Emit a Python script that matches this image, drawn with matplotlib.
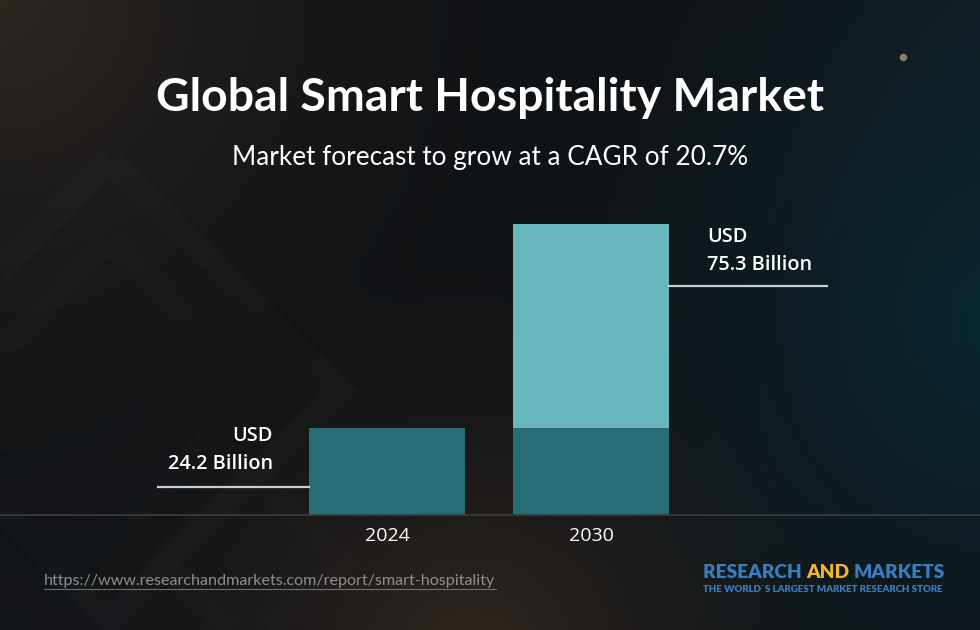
import numpy as np
import matplotlib
matplotlib.use("Agg")
import matplotlib.pyplot as plt
from matplotlib.patches import Polygon

# ---- data ----
years = ["2024", "2030"]
base_values = [24.2, 24.2]
total_values = [24.2, 75.3]
value_labels = ["USD\n24.2 Billion", "USD\n75.3 Billion"]
title = "Global Smart Hospitality Market"
subtitle = "Market forecast to grow at a CAGR of 20.7%"
url = "https://www.researchandmarkets.com/report/smart-hospitality"

W, H = 980, 630
fig = plt.figure(figsize=(W / 100, H / 100), dpi=100)

# ---- background gradient ----
bg = fig.add_axes([0, 0, 1, 1])
bg.set_axis_off()
yy, xx = np.mgrid[0:H, 0:W].astype(float)
base = np.array([0.065, 0.075, 0.085])
img = np.ones((H, W, 3)) * base

def blob(cx, cy, r, col, strength):
    d = np.sqrt((xx - cx) ** 2 + (yy - cy) ** 2) / r
    w = np.clip(1 - d, 0, 1) ** 1.6 * strength
    return w[..., None] * (np.array(col) - base)

img += blob(0, 0, 520, [0.18, 0.155, 0.135], 1.0)
img += blob(470, 660, 420, [0.19, 0.155, 0.13], 1.0)
img += blob(1000, 330, 520, [0.035, 0.16, 0.20], 1.0)
img += blob(1000, 0, 400, [0.07, 0.13, 0.15], 0.6)
img += blob(0, 630, 400, [0.09, 0.10, 0.11], 0.5)
img = np.clip(img, 0, 1)
bg.imshow(img, extent=[0, W, H, 0], aspect="auto")
bg.set_xlim(0, W)
bg.set_ylim(H, 0)
# faint diamonds
for (cx, cy, s, a) in [(110, 390, 230, 0.015), (110, 390, 150, 0.012), (250, 560, 90, 0.01)]:
    bg.add_patch(Polygon([[cx, cy - s], [cx + s, cy], [cx, cy + s], [cx - s, cy]],
                         closed=True, fill=False, ec=(1, 1, 1, a), lw=18))
bg.scatter([903], [57], s=20, color="#8a7c6c", zorder=3)

# ---- chart axes (baseline at pixel 515) ----
v0 = 2.4
scale = 3.99  # pixels per unit
ax = fig.add_axes([0, (H - 515) / H, 1, 515 / H])
ax.set_facecolor("none")
ax.set_xlim(-387 / 204, (W - 387) / 204)
ax.set_ylim(v0, v0 + 515 / scale)
ax.set_axis_off()

x = np.arange(len(years))
dark = "#286c75"
light = "#68b7bc"
ax.bar(x, base_values, width=156 / 204, color=dark, zorder=2)
ax.bar(x, np.array(total_values) - np.array(base_values), bottom=base_values,
       width=156 / 204, color=light, zorder=2)

def px(p):
    return (p - 387) / 204

def py(p):
    return v0 + (515 - p) / scale

# baseline
ax.plot([px(0), px(W)], [v0, v0], color="#3e3e3e", lw=1.2, clip_on=False, zorder=3)

# leader lines
ax.plot([px(158), x[0] - 78 / 204], [py(487), py(487)], color="#c9cdd0", lw=1.6, zorder=3)
ax.plot([x[1] + 78 / 204, px(827)], [py(286), py(286)], color="#c9cdd0", lw=1.6, zorder=3)

lab_font = dict(family="Open Sans", fontweight="semibold", fontsize=14.3, color="white")
ax.text(px(273), py(450), value_labels[0], ha="right", va="center",
        linespacing=1.5, **lab_font)
ax.text(px(707), py(251), value_labels[1], ha="left", va="center",
        linespacing=1.5, **lab_font)

for i, yr in enumerate(years):
    ax.text(x[i], py(536), yr, ha="center", va="center", fontsize=14,
            family="Open Sans", color="white", clip_on=False)

# ---- titles ----
fig.text(490 / W, 1 - 98 / H, title, ha="center", va="center",
         family="Lato", fontweight="bold", fontsize=33.4, color="white")
fig.text(490 / W, 1 - 157 / H, subtitle, ha="center", va="center",
         family="Lato", fontsize=18.8, color="white")

# ---- footer ----
fig.text(44 / W, 1 - 581 / H, url, ha="left", va="center",
         family="Lato", fontsize=11.6, color="#8e8e8e")
bg.plot([44, 496], [589, 589], color="#6f6f6f", lw=0.8)

# logo: lay out pieces one after another
fig.canvas.draw()
r = fig.canvas.get_renderer()
logo_fs = 13.75
xpos = 703
for piece, col in [("RESEARCH ", "#3a7dbf"), ("AND ", "#f2b531"), ("MARKETS", "#3a7dbf")]:
    t = fig.text(xpos / W, 1 - 573 / H, piece, ha="left", va="center",
                 family="Lato", fontweight="heavy", fontsize=logo_fs, color=col)
    bb = t.get_window_extent(renderer=r)
    xpos += bb.width
fig.text(943 / W, 1 - 590 / H, "THE WORLD`S LARGEST MARKET RESEARCH STORE",
         ha="right", va="center", family="Lato", fontweight="heavy",
         fontsize=7.0, color="#3a7dbf")

fig.savefig("out.png", dpi=100)
